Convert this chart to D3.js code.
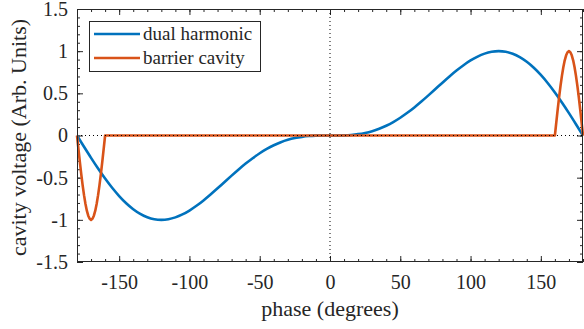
<!DOCTYPE html>
<html>
<head>
<meta charset="utf-8">
<script src="https://cdn.jsdelivr.net/npm/d3@7"></script>
<style>
  html, body { margin: 0; padding: 0; background: #fff; }
  svg { display: block; font-family: "Liberation Serif", "DejaVu Serif", serif; }
</style>
</head>
<body>
<div id="chart"></div>
<script>
// DATA
const dualPhase = [-180,-175,-170,-165,-160,-155,-150,-145,-140,-135,-130,-125,-120,-115,-110,-105,-100,-95,-90,-85,-80,-75,-70,-65,-60,-55,-50,-45,-40,-35,-30,-25,-20,-15,-10,-5,
  0,5,10,15,20,25,30,35,40,45,50,55,60,65,70,75,80,85,90,95,100,105,110,115,120,125,130,135,140,145,150,155,160,165,170,175,180];
const dualHarmonic = [0,-0.1339,-0.2653,-0.3917,-0.5107,-0.6202,-0.7182,-0.8032,-0.8739,-0.9292,-0.9687,-0.9923,-1.0,-0.9925,-0.9708,-0.936,-0.8897,-0.8337,-0.7698,-0.7,-0.6265,-0.5511,-0.476,-0.4028,-0.3333,-0.2689,-0.2106,-0.1594,-0.1158,-0.0799,-0.0516,-0.0305,-0.0159,-0.0068,-0.002,-0.0003,
  0,0.0003,0.002,0.0068,0.0159,0.0305,0.0516,0.0799,0.1158,0.1594,0.2106,0.2689,0.3333,0.4028,0.476,0.5511,0.6265,0.7,0.7698,0.8337,0.8897,0.936,0.9708,0.9925,1.0,0.9923,0.9687,0.9292,0.8739,0.8032,0.7182,0.6202,0.5107,0.3917,0.2653,0.1339,0];

const barrierPhase = [-180,-179,-178,-177,-176,-175,-174,-173,-172,-171,-170,-169,-168,-167,-166,-165,-164,-163,-162,-161,-160,
  160,161,162,163,164,165,166,167,168,169,170,171,172,173,174,175,176,177,178,179,180];
const barrierCavity = [0,-0.1564,-0.309,-0.454,-0.5878,-0.7071,-0.809,-0.891,-0.9511,-0.9877,-1,-0.9877,-0.9511,-0.891,-0.809,-0.7071,-0.5878,-0.454,-0.309,-0.1564,0,
  0,0.1564,0.309,0.454,0.5878,0.7071,0.809,0.891,0.9511,0.9877,1,0.9877,0.9511,0.891,0.809,0.7071,0.5878,0.454,0.309,0.1564,0];

const xMajor = [-150, -100, -50, 0, 50, 100, 150];
const yMajor = [-1.5, -1, -0.5, 0, 0.5, 1, 1.5];
const seriesNames = ['dual harmonic', 'barrier cavity'];
const seriesColors = ['#0072BD', '#D95319'];

// LAYOUT
const width = 584, height = 329;
const margin = { top: 9, right: 1, bottom: 67, left: 77 };
const axisColor = '#262626';

const svg = d3.select('#chart').append('svg')
  .attr('width', width)
  .attr('height', height);

const x = d3.scaleLinear().domain([-180, 180]).range([margin.left, width - margin.right]);
const y = d3.scaleLinear().domain([-1.5, 1.5]).range([height - margin.bottom, margin.top]);

const fmt = d => String(d);

// AXES (ticks pointing inward, mirrored on all sides)
function styleAxis(g) {
  g.select('.domain').remove();
  g.selectAll('line').attr('stroke', axisColor);
}

// minor ticks
svg.append('g').attr('transform', `translate(0,${y(-1.5)})`)
  .call(d3.axisBottom(x).tickValues(x.ticks(36)).tickSize(-3).tickFormat(''))
  .call(styleAxis);
svg.append('g').attr('transform', `translate(0,${y(1.5)})`)
  .call(d3.axisTop(x).tickValues(x.ticks(36)).tickSize(-3).tickFormat(''))
  .call(styleAxis);
svg.append('g').attr('transform', `translate(${x(-180)},0)`)
  .call(d3.axisLeft(y).tickValues(y.ticks(30)).tickSize(-3).tickFormat(''))
  .call(styleAxis);
svg.append('g').attr('transform', `translate(${x(180)},0)`)
  .call(d3.axisRight(y).tickValues(y.ticks(30)).tickSize(-3).tickFormat(''))
  .call(styleAxis);

// major ticks + labels
const xAxis = svg.append('g').attr('transform', `translate(0,${y(-1.5)})`)
  .call(d3.axisBottom(x).tickValues(xMajor).tickSize(-6).tickPadding(13).tickFormat(fmt))
  .call(styleAxis);
svg.append('g').attr('transform', `translate(0,${y(1.5)})`)
  .call(d3.axisTop(x).tickValues(xMajor).tickSize(-6).tickFormat(''))
  .call(styleAxis);
const yAxis = svg.append('g').attr('transform', `translate(${x(-180)},0)`)
  .call(d3.axisLeft(y).tickValues(yMajor).tickSize(-6).tickPadding(9).tickFormat(fmt))
  .call(styleAxis);
svg.append('g').attr('transform', `translate(${x(180)},0)`)
  .call(d3.axisRight(y).tickValues(yMajor).tickSize(-6).tickFormat(''))
  .call(styleAxis);

svg.selectAll('.tick text')
  .attr('fill', axisColor)
  .style('font-family', '"Liberation Serif", serif')
  .style('font-size', '20px');

// LINES
const dual = dualPhase.map((p, i) => ({ p, v: dualHarmonic[i] }));
const barrier = barrierPhase.map((p, i) => ({ p, v: barrierCavity[i] }));

svg.append('path')
  .datum(dual)
  .attr('fill', 'none')
  .attr('stroke', seriesColors[0])
  .attr('stroke-width', 2.6)
  .attr('d', d3.line().x(d => x(d.p)).y(d => y(d.v)).curve(d3.curveMonotoneX));

svg.append('path')
  .datum(barrier)
  .attr('fill', 'none')
  .attr('stroke', seriesColors[1])
  .attr('stroke-width', 2.6)
  .attr('stroke-linejoin', 'round')
  .attr('d', d3.line().x(d => x(d.p)).y(d => y(d.v)));

// DOTTED ZERO LINES
svg.append('line')
  .attr('x1', x(-180)).attr('x2', x(180))
  .attr('y1', y(0)).attr('y2', y(0))
  .attr('stroke', '#000').attr('stroke-width', 1).attr('stroke-dasharray', '1,3');
svg.append('line')
  .attr('x1', x(0)).attr('x2', x(0))
  .attr('y1', y(-1.5)).attr('y2', y(1.5))
  .attr('stroke', '#000').attr('stroke-width', 1).attr('stroke-dasharray', '1,3');

// FRAME
svg.append('rect')
  .attr('x', x(-180) + 0.5).attr('y', y(1.5) + 0.5)
  .attr('width', x(180) - x(-180) - 1).attr('height', y(-1.5) - y(1.5) - 1)
  .attr('fill', 'none').attr('stroke', axisColor).attr('stroke-width', 1);

// AXIS LABELS
svg.append('text')
  .attr('x', (x(-180) + x(180)) / 2).attr('y', 316)
  .attr('text-anchor', 'middle')
  .attr('fill', axisColor)
  .style('font-size', '22px')
  .text('phase (degrees)');

svg.append('text')
  .attr('transform', `translate(26,${(y(-1.5) + y(1.5)) / 2 + 2}) rotate(-90)`)
  .attr('text-anchor', 'middle')
  .attr('fill', axisColor)
  .style('font-size', '22px')
  .text('cavity voltage (Arb. Units)');

// LEGEND
const legend = svg.append('g');
legend.append('rect')
  .attr('x', 89.5).attr('y', 21.5).attr('width', 171).attr('height', 50)
  .attr('fill', '#fff').attr('stroke', axisColor).attr('stroke-width', 1);
seriesNames.forEach((name, i) => {
  const ly = 34 + i * 24;
  legend.append('line')
    .attr('x1', 94).attr('x2', 140).attr('y1', ly).attr('y2', ly)
    .attr('stroke', seriesColors[i]).attr('stroke-width', 2.6);
  legend.append('text')
    .attr('x', 143).attr('y', ly + 6)
    .attr('fill', axisColor)
    .style('font-size', '19px')
    .text(name);
});
</script>
</body>
</html>
